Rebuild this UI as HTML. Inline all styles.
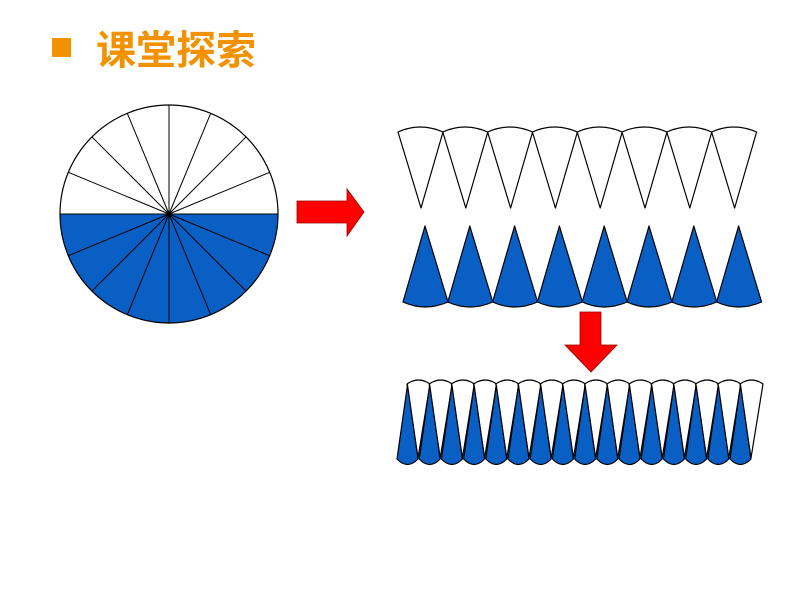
<!DOCTYPE html>
<html><head><meta charset="utf-8"><style>
html,body{margin:0;padding:0;background:#fff;width:794px;height:596px;overflow:hidden}
</style></head><body>
<svg id="s" width="794" height="596" viewBox="0 0 794 596" xmlns="http://www.w3.org/2000/svg">
<rect x="52" y="38" width="19" height="19" fill="#f39200"/>
<text x="96" y="64" font-family="'Liberation Sans','Noto Sans CJK SC',sans-serif" font-size="40" font-weight="bold" fill="#f39200">课堂探索</text>
<path d="M60,214 A109,109 0 0 0 278,214 Z" fill="#0a5fc4"/>
<circle cx="169" cy="214" r="109" fill="none" stroke="#000" stroke-width="1.2"/>
<g id="spokes" stroke="#000" stroke-width="1"></g>
<polygon points="297,201 347,201 347,189 364,212 347,236 347,223 297,223" fill="#f00" stroke="#900" stroke-width="0.8"/>
<polygon points="580,312 601,312 601,345 617,345 591,372 565,345 580,345" fill="#f00" stroke="#900" stroke-width="0.8"/>
<g id="shapes" stroke="#000" stroke-width="1.2" stroke-linejoin="round"></g>
</svg>
<script>
var sp=document.getElementById('spokes'),g=document.getElementById('shapes'),ns='http://www.w3.org/2000/svg';
for(var k=0;k<16;k++){var a=k*Math.PI/8;var l=document.createElementNS(ns,'line');
l.setAttribute('x1',169);l.setAttribute('y1',214);l.setAttribute('x2',169+109*Math.cos(a));l.setAttribute('y2',214+109*Math.sin(a));sp.appendChild(l);}
function P(d,f){var p=document.createElementNS(ns,'path');p.setAttribute('d',d);p.setAttribute('fill',f);g.appendChild(p);}
for(var i=0;i<8;i++){var x=398+44.8*i;
P('M'+(x+23)+',208 L'+x+',132 Q'+(x+22)+',122 '+(x+45)+',132 Z','#fff');
var b=403+44.8*i;
P('M'+(b+22)+',226 L'+b+',302 Q'+(b+22)+',312 '+(b+45)+',302 Z','#0a5fc4');}
for(var j=0;j<16;j++){var w=407+22.2*j;
P('M'+(w+11)+',458 L'+w+',384 Q'+(w+11.5)+',376 '+(w+23)+',384 Z','#fff');
var c=397+22.2*j;
P('M'+(c+10.5)+',385 L'+c+',459 Q'+(c+10.5)+',470 '+(c+21)+',459 Z','#0a5fc4');}
</script>
</body></html>
